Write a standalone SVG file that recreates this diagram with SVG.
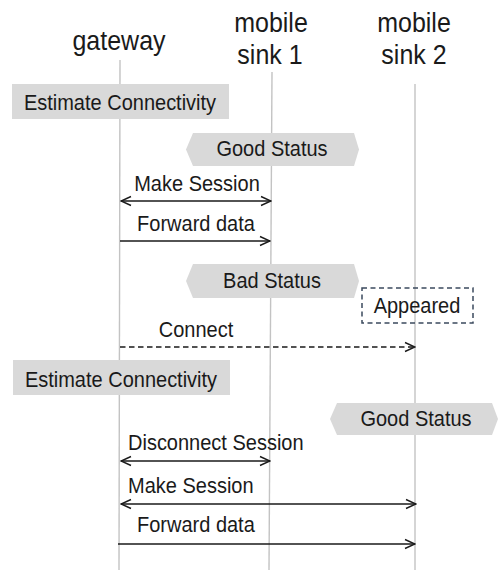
<svg xmlns="http://www.w3.org/2000/svg" width="499" height="570" viewBox="0 0 499 570">
<style>
text{font-family:"Liberation Sans",Arial,sans-serif;fill:#1a1a1a}
.hd{font-size:25px}
.lb{font-size:20px}
.life{stroke:#c3c3c3;stroke-width:1.4;fill:none}
.box{fill:#d9d9d9}
.msg{stroke:#1a1a1a;stroke-width:1.4;fill:none}
.dash{stroke-dasharray:5.5,3.5}
</style>
<defs>
<marker id="ah" viewBox="0 0 12 12" refX="11" refY="6" markerWidth="12" markerHeight="12" markerUnits="userSpaceOnUse" orient="auto-start-reverse">
<path d="M1,1.5 L11,6 L1,10.5" fill="none" stroke="#1a1a1a" stroke-width="1.4"/>
</marker>
</defs>
<rect width="499" height="570" fill="#ffffff"/>
<g id="lifelines">
<line class="life" x1="120" y1="60" x2="119" y2="570"/>
<line class="life" x1="272" y1="72" x2="269" y2="570"/>
<line class="life" x1="415" y1="84" x2="415" y2="570"/>
</g>
<g id="gateway"><text class="hd" transform="translate(119,50) scale(1,1.1)" text-anchor="middle">gateway</text></g>
<g id="sink1"><text class="hd" transform="translate(271,32) scale(1,1.1)" text-anchor="middle">mobile</text><text class="hd" transform="translate(270,64) scale(1,1.1)" text-anchor="middle">sink 1</text></g>
<g id="sink2"><text class="hd" transform="translate(414,32) scale(1,1.1)" text-anchor="middle">mobile</text><text class="hd" transform="translate(414,64) scale(1,1.1)" text-anchor="middle">sink 2</text></g>
<g id="estimate1"><rect class="box" x="12" y="84" width="217" height="35"/><text class="lb" transform="translate(120,109.5) scale(1,1.1)" text-anchor="middle">Estimate Connectivity</text></g>
<g id="good1"><polygon class="box" points="193,133 354,133 359,149.5 354,166 193,166 186,149.5"/><text class="lb" transform="translate(272,156) scale(1,1.1)" text-anchor="middle">Good Status</text></g>
<g id="bad1"><polygon class="box" points="193,264 354,264 359,281 354,298 193,298 186,281"/><text class="lb" transform="translate(272,288) scale(1,1.1)" text-anchor="middle">Bad Status</text></g>
<g id="appeared"><rect x="362" y="288" width="111" height="35" fill="none" stroke="#3b4a5e" stroke-width="1.5" stroke-dasharray="5,3.5"/><text class="lb" transform="translate(417,313) scale(1,1.1)" text-anchor="middle">Appeared</text></g>
<g id="estimate2"><rect class="box" x="13" y="360" width="217" height="35"/><text class="lb" transform="translate(121,386.5) scale(1,1.1)" text-anchor="middle">Estimate Connectivity</text></g>
<g id="good2"><polygon class="box" points="337,403 492,403 498,419 492,435 337,435 330,419"/><text class="lb" transform="translate(416,426) scale(1,1.1)" text-anchor="middle">Good Status</text></g>
<g id="connectors">
<line class="msg" x1="121" y1="201" x2="271" y2="201" marker-start="url(#ah)" marker-end="url(#ah)"/>
<text class="lb" transform="translate(197,191) scale(1,1.1)" text-anchor="middle">Make Session</text>
<line class="msg" x1="120" y1="241" x2="270" y2="241" marker-end="url(#ah)"/>
<text class="lb" transform="translate(196,231) scale(1,1.1)" text-anchor="middle">Forward data</text>
<line class="msg dash" x1="120" y1="347" x2="415" y2="347" marker-end="url(#ah)"/>
<text class="lb" transform="translate(196,337) scale(1,1.1)" text-anchor="middle">Connect</text>
<line class="msg" x1="121" y1="461" x2="270" y2="461" marker-start="url(#ah)" marker-end="url(#ah)"/>
<text class="lb" transform="translate(128,450) scale(1,1.1)">Disconnect Session</text>
<line class="msg" x1="121" y1="504" x2="416" y2="504" marker-start="url(#ah)" marker-end="url(#ah)"/>
<text class="lb" transform="translate(128,493) scale(1,1.1)">Make Session</text>
<line class="msg" x1="118" y1="544" x2="415" y2="544" marker-end="url(#ah)"/>
<text class="lb" transform="translate(137,532) scale(1,1.1)">Forward data</text>
</g>
</svg>
